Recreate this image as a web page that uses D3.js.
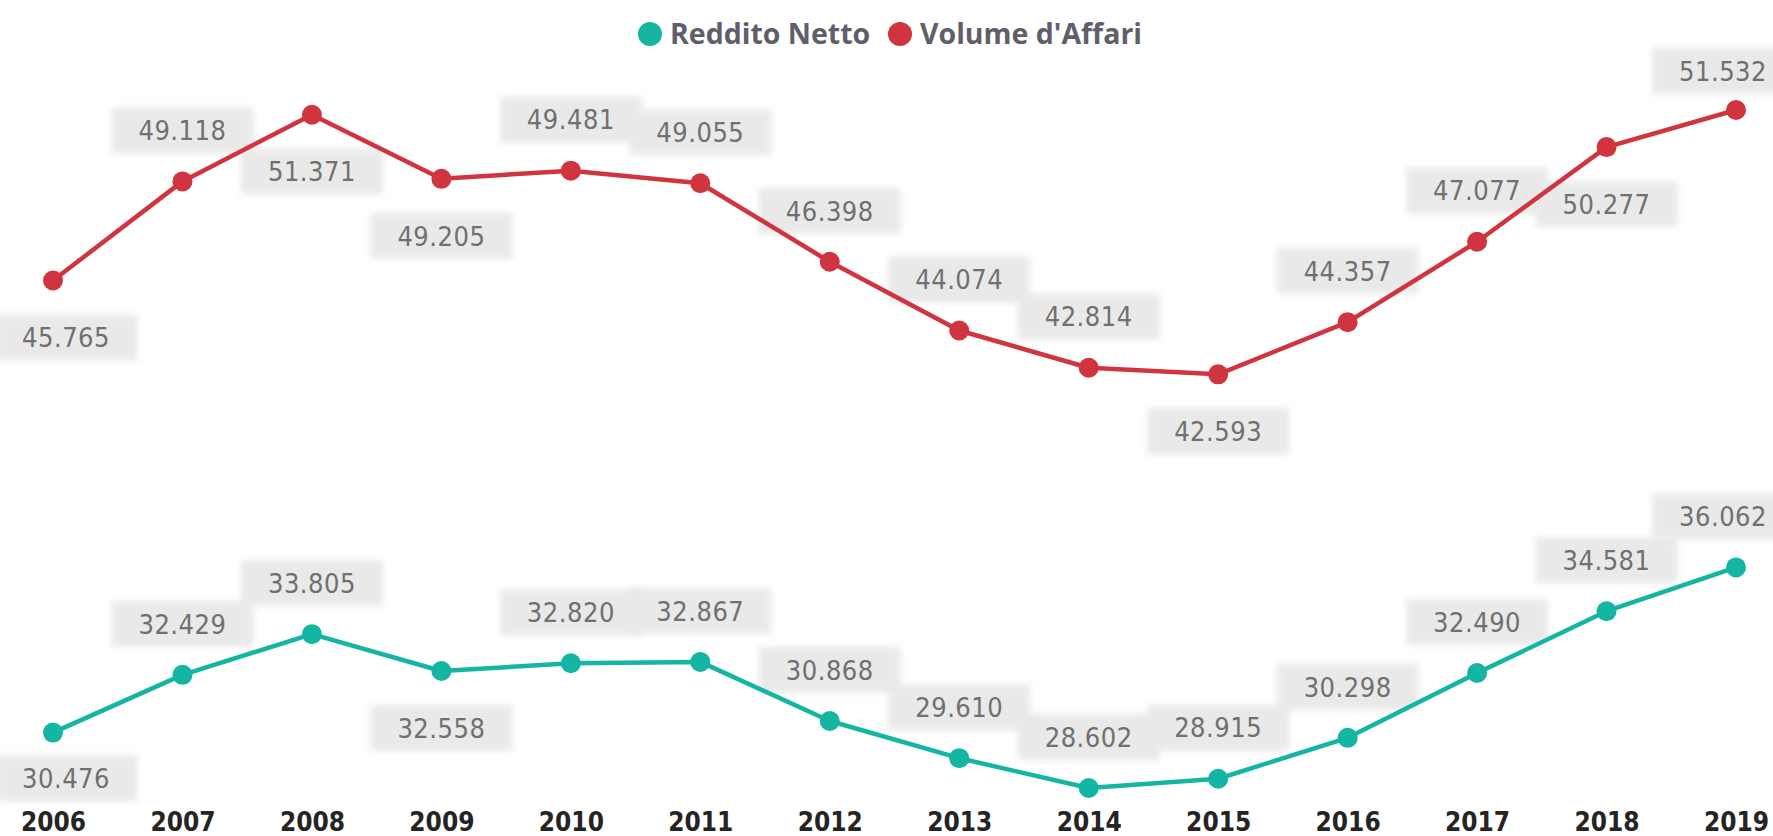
<!DOCTYPE html>
<html>
<head>
<meta charset="utf-8">
<script src="https://cdn.jsdelivr.net/npm/d3@7"></script>
<style>
  html, body { margin: 0; padding: 0; background: #fff; }
  svg { display: block; }
</style>
</head>
<body>
<svg id="chart" width="1773" height="836"></svg>
<script>
// data
const years = ["2006","2007","2008","2009","2010","2011","2012","2013","2014","2015","2016","2017","2018","2019"];
const volumeAffari = [45.765, 49.118, 51.371, 49.205, 49.481, 49.055, 46.398, 44.074, 42.814, 42.593, 44.357, 47.077, 50.277, 51.532];
const redditoNetto = [30.476, 32.429, 33.805, 32.558, 32.820, 32.867, 30.868, 29.610, 28.602, 28.915, 30.298, 32.490, 34.581, 36.062];
const seriesNames = ["Reddito Netto", "Volume d'Affari"];

// where each data label sits relative to its point
const volumeLabelPos = ["below","above","below","below","above","above","above","above","above","below","above","above","below","above"];
const redditoLabelPos = ["below","above","above","below","above","above","above","above","above","above","above","above","above","above"];

const colors = { reddito: "#14B5A2", volume: "#D0343F" };
const fmt = v => v.toFixed(3);
const condensed = "'DejaVu Sans', sans-serif";

const svg = d3.select("#chart");

const x = d3.scalePoint()
	.domain(years)
	.range([53, 1736]);

const allVals = volumeAffari.concat(redditoNetto);
const y = d3.scaleLinear()
	.domain(d3.extent(allVals))
	.range([788, 110]);

const defs = svg.append("defs");
defs.append("filter").attr("id", "soft")
	.attr("x", "-20%").attr("y", "-40%").attr("width", "140%").attr("height", "180%")
	.append("feGaussianBlur").attr("stdDeviation", 3);

const series = [
	{ key: "volume", values: volumeAffari, pos: volumeLabelPos },
	{ key: "reddito", values: redditoNetto, pos: redditoLabelPos }
];

// label geometry
const boxW = 142, boxH = 46;
function labelPlace (yr, v, p) {
	let cx = x(yr);
	let cy = y(v) + (p === "above" ? -51 : 57);
	cx = Math.max(66, Math.min(1723, cx));
	cy = Math.max(48 + boxH / 2, Math.min(801 - boxH / 2, cy));
	return [cx, cy];
}

const labelBoxes = svg.append("g").attr("class", "label-boxes");
const plot = svg.append("g").attr("class", "plot");
const labelTexts = svg.append("g").attr("class", "label-texts");

series.forEach(function (s) {
	const pts = s.values.map(function (v, i) { return { year: years[i], value: v, pos: s.pos[i] }; });

	labelBoxes.selectAll(null)
		.data(pts)
		.join("rect")
		.attr("x", d => labelPlace(d.year, d.value, d.pos)[0] - boxW / 2)
		.attr("y", d => labelPlace(d.year, d.value, d.pos)[1] - boxH / 2)
		.attr("width", boxW)
		.attr("height", boxH)
		.attr("fill", "#e9e9e9")
		.attr("filter", "url(#soft)");

	const line = d3.line()
		.x(d => x(d.year))
		.y(d => y(d.value));

	plot.append("path")
		.datum(pts)
		.attr("d", line)
		.attr("fill", "none")
		.attr("stroke", colors[s.key])
		.attr("stroke-width", 4.5)
		.attr("stroke-linejoin", "round");

	plot.selectAll(null)
		.data(pts)
		.join("circle")
		.attr("cx", d => x(d.year))
		.attr("cy", d => y(d.value))
		.attr("r", 10)
		.attr("fill", colors[s.key]);

	labelTexts.selectAll(null)
		.data(pts)
		.join("text")
		.attr("x", d => labelPlace(d.year, d.value, d.pos)[0])
		.attr("y", d => labelPlace(d.year, d.value, d.pos)[1])
		.attr("dy", "0.36em")
		.attr("text-anchor", "middle")
		.style("font-family", condensed)
		.style("font-stretch", "condensed")
		.style("font-size", "27px")
		.style("letter-spacing", "0.5px")
		.style("fill", "#707070")
		.text(d => fmt(d.value));
});

// x axis
const xAxis = svg.append("g")
	.attr("transform", "translate(0," + 813 + ")")
	.call(d3.axisBottom(x).tickSize(0).tickPadding(0));
xAxis.select(".domain").remove();
xAxis.selectAll("text")
	.attr("dy", "0.71em")
	.style("font-family", condensed)
	.style("font-stretch", "condensed")
	.style("font-weight", "bold")
	.style("font-size", "26px")
	.style("fill", "#252423");

// legend
const legend = svg.append("g").attr("class", "legend");
const legendItems = [
	{ name: seriesNames[0], color: colors.reddito, cx: 650 },
	{ name: seriesNames[1], color: colors.volume, cx: 900 }
];
const li = legend.selectAll("g")
	.data(legendItems)
	.join("g")
	.attr("transform", d => "translate(" + d.cx + ",34)");
li.append("circle")
	.attr("r", 12)
	.attr("fill", d => d.color);
li.append("text")
	.attr("x", 20)
	.attr("dy", "0.36em")
	.style("font-family", "'Open Sans', sans-serif")
	.style("font-weight", "bold")
	.style("font-size", "28.5px")
	.style("fill", "#5f5e6a")
	.text(d => d.name);
</script>
</body>
</html>
